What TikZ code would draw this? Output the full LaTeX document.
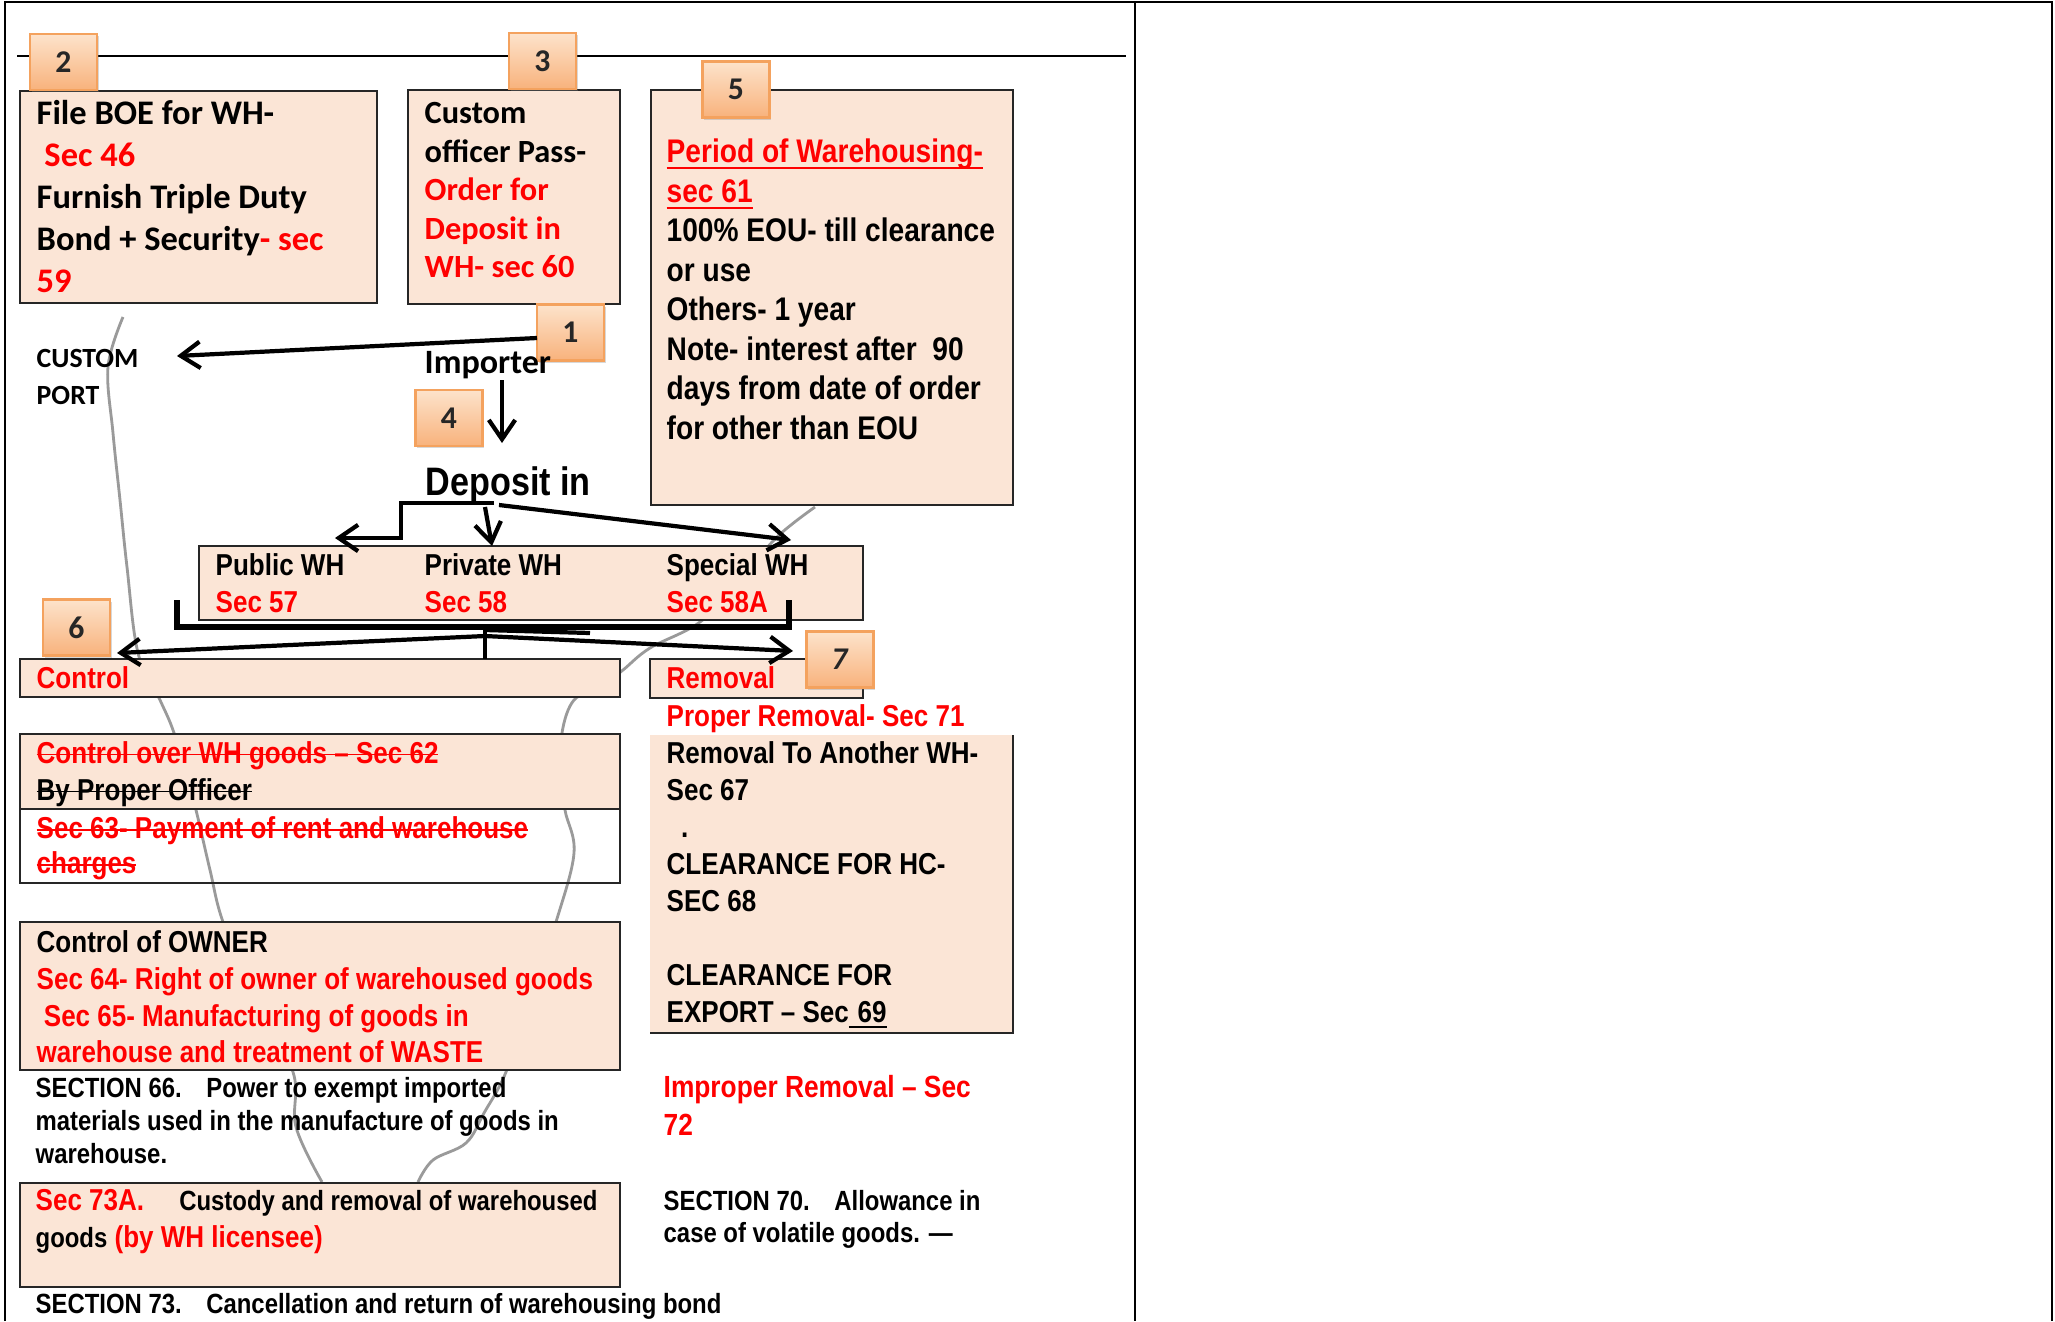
\documentclass[tikz,border=0pt]{standalone}
\usepackage{fontspec}
\usetikzlibrary{arrows.meta,shadows}
\newfontfamily\carlito{Carlito}
\newfontfamily\narrow[FakeStretch=0.86]{Liberation Sans}
\definecolor{peach}{HTML}{FBE5D6}
\definecolor{secred}{HTML}{FF0000}
\definecolor{badgetop}{HTML}{FDE3CB}
\definecolor{badgebot}{HTML}{F8B27C}
\definecolor{badgeedge}{HTML}{F4A25E}
\definecolor{vase}{HTML}{9A9A9A}
\newcommand{\rd}[1]{\textcolor{secred}{#1}}
\newsavebox{\lnbox}
\newcommand{\strk}[1]{\sbox{\lnbox}{#1}\rlap{\usebox{\lnbox}}\rule[0.27em]{\wd\lnbox}{0.5pt}}
\newcommand{\undl}[1]{\sbox{\lnbox}{#1}\rlap{\usebox{\lnbox}}\rule[-0.2em]{\wd\lnbox}{0.5pt}}
\newcommand{\sectfont}{\fontsize{7.9}{10.5}\selectfont}
\tikzset{
  box/.style={draw=black!85, line width=0.7pt, fill=peach},
  plainbox/.style={draw=black!85, line width=0.7pt},
  txt/.style={inner sep=0pt, anchor=north west, align=left},
  lbl/.style={inner sep=0pt, anchor=base west},
  arial/.style={font=\narrow\bfseries\fontsize{8.6}{#1}\selectfont},
  arial/.default=10.5,
  small/.style={font=\narrow\bfseries\fontsize{7.9}{#1}\selectfont},
  small/.default=9.4,
  calib/.style={font=\carlito\bfseries\fontsize{9.8}{#1}\selectfont},
  calib/.default=11.95,
  badge/.style={draw=badgeedge, line width=0.6pt, top color=badgetop,
    bottom color=badgebot, minimum width=0.67cm, minimum height=0.56cm,
    inner sep=0pt, text=black!85, font=\carlito\bfseries\fontsize{9}{10}\selectfont,
    drop shadow={shadow xshift=0.5pt, shadow yshift=-0.7pt, opacity=0.3}},
  arr/.style={line width=1.2pt, -{Straight Barb[length=5.5pt, width=7.5pt, line width=1.2pt]}},
  brace/.style={line width=1.8pt},
  vaseline/.style={draw=vase, line width=0.8pt},
}
\begin{document}
\begin{tikzpicture}[x=0.01cm, y=-0.01cm]
\useasboundingbox (0,0) rectangle (2055,1321);
\fill[white] (0,0) rectangle (2055,1321);
% table frame
\draw[line width=0.8pt] (5,1321) -- (5,2) -- (2052,2) -- (2052,1321);
\draw[line width=0.8pt] (1135,2) -- (1135,1321);
\draw[line width=0.8pt] (17,56) -- (1126,56);
% outline behind the boxes
\draw[vaseline] plot[smooth, tension=0.6] coordinates {(123,317) (108,367) (113,433)
  (120,500) (127,567) (138,653) (160,700) (173,730) (185,770) (196,810) (210,870)
  (223,922) (255,1000) (293,1072) (296,1127) (322,1182)};
\draw[vaseline] plot[smooth, tension=0.6] coordinates {(815,507) (777,537) (740,580)
  (700,622) (650,648) (623,670) (600,688) (574,700) (562,733) (562,775) (565,810)
  (574,853) (556,922) (530,1000) (506,1072) (484,1113) (466,1143) (433,1160) (418,1182)};
% boxes
\draw[box] (20,91) rectangle (377,303);
\draw[box] (408,90) rectangle (620,304);
\draw[box] (651,90) rectangle (1013,505);
\draw[box] (199,546) rectangle (863,620);
\draw[box] (20,659) rectangle (620,697);
\draw[box] (650,659) rectangle (863,698);
\draw[box] (20,734) rectangle (620,809);
\draw[plainbox] (20,809) rectangle (620,883);
\draw[box] (20,922) rectangle (620,1070);
\fill[peach] (650,735) rectangle (1013,1033);
\draw[plainbox] (1013,735) -- (1013,1033) -- (650,1033);
\draw[box] (20,1183) rectangle (620,1287);
% step badges
\node[badge] (b2) at (63.5,62) {2};
\node[badge] (b3) at (542.5,61) {3};
\node[badge] (b5) at (736,89.5) {5};
\node[badge] (b1) at (570.5,332.5) {1};
\node[badge] (b4) at (449,418) {4};
\node[badge] (b6) at (76.5,627.5) {6};
\node[badge] (b7) at (840,659.5) {\textit{7}};
% texts
\node[txt, calib] (boe) at (36,94.6) {\strut File BOE for WH-\\ \rd{\ Sec 46}\\
  Furnish Triple Duty\\ Bond + Security\rd{- sec}\\ \rd{59}};
\node[txt, font=\carlito\bfseries\fontsize{9.2}{10.95}\selectfont] (pass) at (424,96)
  {\strut Custom\\ officer Pass-\\ \rd{Order for}\\ \rd{Deposit in}\\ \rd{WH- sec 60}};
\node[txt, font=\narrow\bfseries\fontsize{9.3}{11.24}\selectfont] (period) at (666,134.3)
  {\strut\rd{\undl{Period of Warehousing-}}\\ \rd{\undl{sec 61}}\\ 100\% EOU- till clearance\\
  or use\\ Others- 1 year\\ Note- interest after\ \ 90\\ days from date of order\\ for other than EOU};
\node[txt, font=\carlito\bfseries\fontsize{7.9}{10.5}\selectfont] (port) at (36,341) {\strut CUSTOM\\ PORT};
\node[lbl, font=\carlito\bfseries\fontsize{9.7}{11}\selectfont] (importer) at (424,373) {Importer};
\node[lbl, font=\narrow\bfseries\fontsize{11.3}{13}\selectfont] (deposit) at (425,495) {Deposit in};
\node[txt, arial] (public) at (215,549) {\strut Public WH\\ \rd{Sec 57}};
\node[txt, arial] (private) at (424,549) {\strut Private WH\\ \rd{Sec 58}};
\node[txt, arial] (special) at (666,549) {\strut Special WH\\ \rd{Sec 58A}};
\node[lbl, arial] (control) at (36,688) {\rd{Control}};
\node[lbl, arial] (removal) at (666,688) {\rd{Removal}};
\node[lbl, arial] (proper) at (666,726) {\rd{Proper Removal- Sec 71}};
\node[txt, arial] (another) at (666,737) {\strut Removal To Another WH-\\ Sec 67\\ \ \ .\\
  CLEARANCE FOR HC-\\ SEC 68\\[10.5pt] CLEARANCE FOR\\ EXPORT – Sec\undl{\kern2.5pt 69}};
\node[txt, arial] (over) at (36,737) {\strut\rd{\strk{Control over WH goods – Sec 62}}\\
  \strk{By Proper Officer}};
\node[txt, arial=9.96] (rent) at (36,813.5) {\strut\rd{\strk{Sec 63- Payment of rent and warehouse}}\\
  \rd{\strk{charges}}};
\node[txt, arial=10.44] (owner) at (36,926.3) {\strut Control of OWNER\\
  \rd{Sec 64- Right of owner of warehoused goods}\\ \rd{\ Sec 65- Manufacturing of goods in}\\
  \rd{warehouse and treatment of WASTE}};
\node[txt, small] (exempt) at (35,1074) {\strut SECTION 66.\hspace{7pt}Power to exempt imported\\
  materials used in the manufacture of goods in\\ warehouse.};
\node[txt, font=\narrow\bfseries\fontsize{8.7}{10.8}\selectfont] (improper) at (663,1070.4)
  {\strut\rd{Improper Removal – Sec}\\ \rd{72}};
\node[txt, arial] (custody) at (35,1184) {\strut\rd{Sec 73A.}\hspace{10pt}{\sectfont Custody and removal of warehoused}\\
  {\sectfont goods} \rd{(by WH licensee)}};
\node[txt, small=9.1] (volatile) at (663,1187.6) {\strut SECTION 70.\hspace{7pt}Allowance in\\
  case of volatile goods. —};
\node[lbl, small] (bond) at (35,1313) {SECTION 73.\hspace{7pt}Cancellation and return of warehousing bond};
% connectors
\coordinate (imp-w) at (537,338);
\coordinate (port-e) at (177,356);
\coordinate (imp-s) at (502,380);
\coordinate (dep-in) at (502,443);
\draw[arr] (imp-w) -- (port-e);
\draw[arr] (imp-s) -- (dep-in);
\coordinate (dep-l) at (494,503);
\coordinate (dep-m) at (485,507);
\coordinate (dep-r) at (499,505);
\coordinate (pub-in) at (335,538);
\coordinate (pri-in) at (492,546);
\coordinate (spe-in) at (791,540);
\draw[arr] (dep-l) -- (401,503) -- (401,538) -- (pub-in);
\draw[arr] (dep-m) -- (pri-in);
\draw[arr] (dep-r) -- (spe-in);
\draw[brace] (177,600) -- (177,627) -- (789,627) -- (789,600);
\coordinate (wh-mid) at (485,636);
\coordinate (ctl-in) at (117,653);
\coordinate (rem-in) at (793,651);
\draw[line width=1.2pt] (485,627) -- (485,659);
\draw[line width=1.2pt] (485,630) -- (590,633);
\draw[arr] (wh-mid) -- (ctl-in);
\draw[arr] (wh-mid) -- (rem-in);
\end{tikzpicture}
\end{document}
